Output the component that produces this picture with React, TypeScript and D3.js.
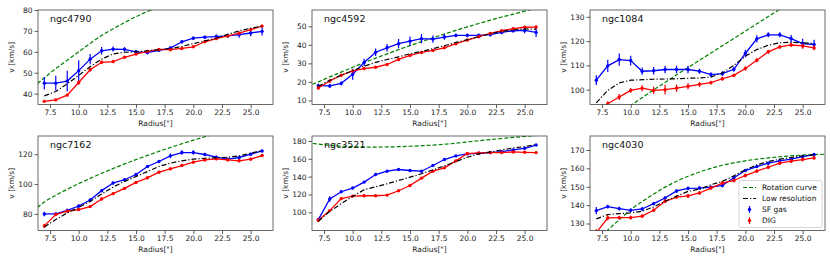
import React, { useEffect, useRef } from 'react';
import * as d3 from 'd3';

const radii = [7, 8, 9, 10, 11, 12, 13, 14, 15, 16, 17, 18, 19, 20, 21, 22, 23, 24, 25, 26];
const rotRadii = [6, 7, 8, 9, 10, 11, 12, 13, 14, 15, 16, 17, 18, 19, 20, 21, 22, 23, 24, 25, 26, 27];
const xTicks = [7.5, 10, 12.5, 15, 17.5, 20, 22.5, 25];

const names = ['ngc4790', 'ngc4592', 'ngc1084', 'ngc7162', 'ngc3521', 'ngc4030'];

const sfGas = [
    [45, 45, 46, 51, 56.5, 60.5, 61.3, 61.2, 60, 59.6, 60.7, 61.8, 64.8, 66.5, 67, 67.3, 67.6, 68.2, 69, 69.8],
    [18, 17.8, 19.2, 24.1, 30.5, 36, 38.4, 40.6, 42, 43.3, 43.1, 44.2, 45.1, 45.1, 45.1, 45.5, 46.7, 47.6, 47.8, 46.7],
    [103.9, 109.8, 112.4, 112, 107.6, 107.8, 108.3, 108.3, 108.3, 107.6, 106.2, 106.6, 108.4, 114.9, 120.9, 122.6, 122.6, 121, 119, 118.6],
    [80, 80, 82.4, 85.3, 89.3, 95.6, 100.7, 102.9, 106.4, 111.8, 115.1, 118.9, 121.1, 121.1, 119.8, 118, 116.7, 117.8, 120, 122.2],
    [91.8, 114.9, 123.1, 127.2, 133.9, 142.4, 146.1, 148, 146.9, 146.1, 152.5, 159.2, 163.3, 165.5, 166.2, 167, 168.1, 170, 171.8, 175.5],
    [137, 139.2, 138.1, 137.2, 137.9, 140.8, 143.9, 147.7, 149.1, 149.3, 149.8, 150.7, 154.9, 158.8, 161, 162.8, 164.1, 165, 166.4, 167.5],
];
const sfErr = [
    [3, 3.5, 5, 5, 2.5, 1.8, 1.2, 1, 0.8, 0.8, 0.8, 0.8, 0.8, 0.8, 0.8, 1, 1, 1.5, 1.5, 2],
    [1, 1, 1.2, 3, 2, 2, 2, 2.5, 2.5, 2.5, 2, 1.5, 1, 1, 1, 1, 1, 1, 1.5, 2.5],
    [2, 2.5, 2.5, 2, 1.5, 1.5, 1.5, 1.5, 1.5, 1, 1, 1, 1, 1.5, 1.5, 1, 1, 1.5, 2, 2],
    [1.5, 1, 1, 1, 1, 1, 1, 1, 1, 1, 1, 1.5, 1.5, 1.5, 1, 1, 1, 1, 1, 1],
    [1, 3, 1.5, 1, 1, 1, 1, 1, 1, 1, 1, 1, 1, 1, 1, 1, 1, 1, 1, 1],
    [2, 1, 1, 1, 1, 0.8, 0.8, 1, 1, 0.8, 0.8, 1, 0.8, 0.8, 0.8, 0.8, 0.8, 0.8, 0.8, 0.8],
];
const dig = [
    [36.3, 37, 39.3, 45.3, 51.4, 55, 55.3, 57.4, 58.9, 60.2, 61.1, 61, 61.6, 62.4, 64.8, 66.3, 67.6, 68.9, 70.6, 72.3],
    [16.7, 20.5, 23.6, 25.9, 27.2, 27.9, 29.4, 32.1, 34.3, 35.9, 37, 38.4, 40.6, 42.6, 44.4, 46.2, 47.6, 48.7, 49.5, 49.6],
    [91, 94.2, 97, 99.7, 100.6, 99.7, 100, 100.6, 101.4, 102.2, 102.9, 104.5, 105.9, 108.7, 112.1, 115.6, 117.6, 118.4, 118, 117.2],
    [72, 79.6, 81.8, 82.9, 84.9, 90, 93.6, 97.1, 101.1, 104.2, 108, 110.2, 112.4, 114.7, 116.2, 116.9, 116.2, 115.6, 116.7, 119.1],
    [91.1, 101.9, 115.3, 118.2, 118.6, 118.6, 119.3, 124.2, 130.1, 138.3, 146.1, 149.9, 157.7, 165.9, 166.6, 167, 167, 167.7, 167.3, 167],
    [125, 133.1, 133.2, 133.2, 134, 137.2, 142.1, 144.4, 145, 146.6, 149.3, 152, 153.4, 156.1, 158.5, 160.6, 162.8, 163.9, 164.8, 165.7],
];
const digErr = [
    [0.5, 0.5, 0.7, 1, 0.8, 0.8, 0.7, 0.6, 0.5, 0.5, 0.5, 0.5, 0.5, 0.5, 0.5, 0.5, 0.5, 0.5, 0.6, 0.8],
    [0.8, 0.5, 0.5, 0.5, 0.5, 0.5, 0.5, 0.5, 0.5, 0.5, 0.5, 0.5, 0.5, 0.5, 0.5, 0.5, 0.5, 0.5, 0.5, 0.8],
    [1, 1, 1.2, 1, 1.2, 1.5, 2, 1.5, 1.2, 1, 0.8, 0.8, 0.8, 0.8, 0.8, 0.8, 0.8, 0.8, 1, 1],
    [1.5, 1, 1, 1, 1, 1, 1, 1, 1, 1, 1, 1, 1, 1, 1, 1, 1, 1, 1, 1],
    [1, 1, 1.5, 1, 1, 1, 1, 1, 1, 1, 1, 1, 1, 1, 1, 1, 1, 1, 1, 1],
    [2, 1.5, 1, 1, 1, 1, 1, 1, 1, 1, 1, 1, 1, 1, 1, 1, 1, 1, 1, 1],
];
const lowRes = [
    [38.9, 41, 44.7, 48.7, 52.9, 56.5, 59, 59.8, 60, 60.5, 61, 61.5, 62.6, 63.9, 65.2, 66.5, 68.4, 70, 71.3, 72.3],
    [17.6, 20.9, 23.6, 26.1, 28.5, 30.5, 32.1, 33.5, 35.2, 36.4, 37.9, 39.5, 41.3, 42.8, 44.4, 46, 47.3, 48, 48.6, 48.4],
    [94.6, 99.7, 102.8, 103.9, 104.1, 104.3, 104.4, 104.5, 104.7, 104.8, 105.2, 106.9, 110, 113.8, 116.5, 118.3, 119.3, 119.5, 119.3, 119],
    [71.3, 76.2, 80.7, 84.4, 88.4, 93.3, 98, 101.8, 105.1, 108.4, 111.8, 114, 115.6, 116.7, 117.3, 117.6, 118, 118.9, 120.7, 122.4],
    [90, 101.1, 109.7, 117.9, 125.3, 128.6, 132, 135.7, 139.4, 143.2, 147.6, 152.1, 156.9, 161.8, 165.5, 167.7, 170, 172.2, 173.7, 175.9],
    [132.5, 134.9, 135.4, 135.8, 136.7, 139, 142.1, 144.8, 147.5, 148.7, 151.1, 152.9, 155.9, 159.2, 161.9, 163.7, 165, 165.9, 166.8, 167.3],
];
const rotCurve = [
    [43, 47.5, 52, 56, 60, 64, 67.8, 71, 74, 76.8, 79.3, 81.6, 83.7, 85.7, 87.6, 89.4, 91, 92.6, 94, 95.4, 96.7, 98],
    [17.5, 20, 22.7, 25.3, 27.9, 30.4, 32.8, 35.1, 37.4, 39.6, 41.7, 43.8, 45.8, 47.8, 49.7, 51.5, 53.3, 55, 56.6, 58.2, 59.8, 61.3],
    [80.9, 84, 87.1, 90.2, 93.5, 96.7, 99.9, 103, 106.1, 109.1, 112.1, 115.1, 118.1, 121.1, 124.1, 127.1, 130.1, 133.1, 136.1, 139.1, 142.1, 145.1],
    [81.5, 88, 92.5, 96.5, 100.3, 103.8, 107.2, 110.4, 113.5, 116.4, 119.2, 121.9, 124.5, 127, 129.4, 131.7, 133.9, 136, 138, 140, 141.9, 143.7],
    [178, 176.5, 175.2, 174.2, 173.6, 173.3, 173.2, 173.3, 173.6, 174.1, 174.7, 175.4, 176.3, 177.5, 178.9, 180.3, 181.6, 182.8, 184, 185.1, 186.2, 187.3],
    [110, 120, 126.5, 132, 137.5, 142, 146, 149.8, 153, 155.7, 158, 160, 161.7, 163, 164.1, 165, 165.7, 166.3, 166.8, 167.2, 167.5, 167.7],
];
const yDomains: [number, number][] = [
    [34.8, 80], [7.8, 58.8], [93.9, 132.8], [68.9, 132.2], [79.6, 185.6], [126.2, 177.6],
];
const yTicks = [
    [40, 50, 60, 70, 80], [10, 20, 30, 40, 50], [100, 110, 120, 130],
    [80, 100, 120], [100, 120, 140, 160, 180], [130, 140, 150, 160, 170],
];
const legendLabels = ['Rotation curve', 'Low resolution', 'SF gas', 'DIG'];

const FONT = 'DejaVu Sans, sans-serif';

const App: React.FC = () => {
    const ref = useRef<SVGSVGElement>(null);

    useEffect(() => {
        const svg = d3.select(ref.current);
        svg.selectAll('*').remove();

        const colLeft = [38, 312, 590];
        const rowTop = [10, 136];
        const w = 235;
        const h = 94.5;

        names.forEach((name, i) => {
            const left = colLeft[i % 3];
            const top = rowTop[Math.floor(i / 3)];
            const x = d3.scaleLinear().domain([6.45, 26.95]).range([0, w]);
            const y = d3.scaleLinear().domain(yDomains[i]).range([h, 0]);

            const g = svg.append('g').attr('transform', `translate(${left},${top})`);
            const clipId = `clip${i}`;
            g.append('clipPath').attr('id', clipId)
                .append('rect').attr('width', w).attr('height', h);
            g.append('rect').attr('width', w).attr('height', h).attr('fill', 'white');

            const plot = g.append('g').attr('clip-path', `url(#${clipId})`);
            const line = d3.line<number>().x((_, j) => x(radii[j])).y(d => y(d));
            const rot = d3.line<number>().x((_, j) => x(rotRadii[j])).y(d => y(d)).curve(d3.curveMonotoneX);

            plot.append('path').datum(rotCurve[i]).attr('d', rot)
                .attr('fill', 'none').attr('stroke', '#008000').attr('stroke-width', 1.2)
                .attr('stroke-dasharray', '4,2');

            const series = [
                { v: sfGas[i], e: sfErr[i], c: '#0000ff' },
                { v: dig[i], e: digErr[i], c: '#ff0000' },
            ];
            series.forEach(s => {
                plot.append('path').datum(s.v).attr('d', line)
                    .attr('fill', 'none').attr('stroke', s.c).attr('stroke-width', 1.3);
                plot.selectAll(null).data(s.v).enter().append('line')
                    .attr('x1', (_, j) => x(radii[j])).attr('x2', (_, j) => x(radii[j]))
                    .attr('y1', (d, j) => y(d - s.e[j])).attr('y2', (d, j) => y(d + s.e[j]))
                    .attr('stroke', s.c).attr('stroke-width', 1.2);
                plot.selectAll(null).data(s.v).enter().append('circle')
                    .attr('cx', (_, j) => x(radii[j])).attr('cy', d => y(d))
                    .attr('r', 1.7).attr('fill', s.c);
            });

            plot.append('path').datum(lowRes[i]).attr('d', line)
                .attr('fill', 'none').attr('stroke', '#000').attr('stroke-width', 1.2)
                .attr('stroke-dasharray', '5,2,1.2,2');

            // axes
            const xAxis = g.append('g').attr('transform', `translate(0,${h})`)
                .call(d3.axisBottom(x).tickValues(xTicks).tickFormat(d3.format('.1f')).tickSizeOuter(0).tickSize(3.5).tickPadding(2));
            const yAxis = g.append('g')
                .call(d3.axisLeft(y).tickValues(yTicks[i]).tickFormat(d3.format('d')).tickSizeOuter(0).tickSize(3.5).tickPadding(2));
            [xAxis, yAxis].forEach(a => {
                a.select('.domain').remove();
                a.selectAll('line').attr('stroke', '#333').attr('stroke-width', 0.8);
                a.selectAll('text').attr('font-family', FONT).attr('font-size', 7.5).attr('fill', '#222');
            });

            g.append('rect').attr('width', w).attr('height', h)
                .attr('fill', 'none').attr('stroke', '#444').attr('stroke-width', 0.8);

            g.append('text').attr('x', 12).attr('y', 12).text(name)
                .attr('font-family', FONT).attr('font-size', 9.5).attr('fill', '#111');
            g.append('text').attr('x', w / 2).attr('y', h + 21.5).attr('text-anchor', 'middle')
                .text('Radius["]').attr('font-family', FONT).attr('font-size', 7.5).attr('fill', '#222');
            g.append('text').attr('transform', `translate(-24,${h / 2}) rotate(-90)`)
                .attr('text-anchor', 'middle').text('v [km/s]')
                .attr('font-family', FONT).attr('font-size', 7.5).attr('fill', '#222');

            if (i === 5) {
                const lg = g.append('g').attr('transform', `translate(${w - 86},${h - 50})`);
                lg.append('rect').attr('width', 83).attr('height', 47).attr('rx', 2)
                    .attr('fill', 'white').attr('fill-opacity', 0.85)
                    .attr('stroke', '#ccc').attr('stroke-width', 0.8);
                legendLabels.forEach((lab, k) => {
                    const ly = 7 + k * 11;
                    if (k === 0) {
                        lg.append('line').attr('x1', 4).attr('x2', 17).attr('y1', ly).attr('y2', ly)
                            .attr('stroke', '#008000').attr('stroke-width', 1.2).attr('stroke-dasharray', '4,2');
                    } else if (k === 1) {
                        lg.append('line').attr('x1', 4).attr('x2', 17).attr('y1', ly).attr('y2', ly)
                            .attr('stroke', '#000').attr('stroke-width', 1.2).attr('stroke-dasharray', '5,2,1.2,2');
                    } else {
                        const c = k === 2 ? '#0000ff' : '#ff0000';
                        lg.append('line').attr('x1', 10.5).attr('x2', 10.5).attr('y1', ly - 3.5).attr('y2', ly + 3.5)
                            .attr('stroke', c).attr('stroke-width', 1.2);
                        lg.append('circle').attr('cx', 10.5).attr('cy', ly).attr('r', 1.7).attr('fill', c);
                    }
                    lg.append('text').attr('x', 23).attr('y', ly + 2.7).text(lab)
                        .attr('font-family', FONT).attr('font-size', 7.5).attr('fill', '#111');
                });
            }
        });
    }, []);

    return (
        <svg ref={ref} width={830} height={260}
            style={{ position: 'absolute', left: 0, top: 0, background: 'white' }} />
    );
};

export default App;
